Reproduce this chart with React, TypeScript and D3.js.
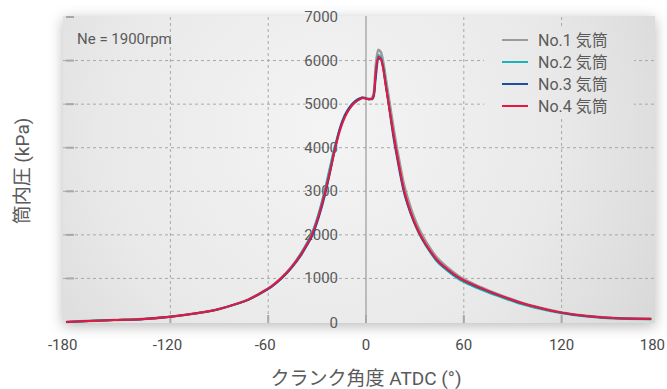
import React, { useEffect, useRef } from 'react';
import * as d3 from 'd3';

// crank angle (deg ATDC), shared by all four cylinders
const angles = [
  -184, -170, -155, -138, -120, -104, -90, -80, -72, -64, -58, -52, -46, -40,
  -36, -33, -29, -25, -22, -19, -16, -13, -10, -7, -4, -2, 0, 2, 3.5, 4.8, 6,
  7.5, 9, 10.5, 12, 13.5, 15, 17, 19, 21, 23, 26, 29, 32, 35, 39, 43, 50, 57,
  65, 75, 85, 95, 107, 120, 135, 155, 175,
];

// cylinder pressure (kPa)
const no1 = [
  0, 25, 45, 65, 120, 200, 300, 410, 520, 680, 820, 1010, 1250, 1560,
  1810, 2030, 2460, 3010, 3490, 3990, 4410, 4710, 4910, 5040, 5120, 5150, 5140, 5120, 5140, 5260, 5880,
  6250, 6200, 5980, 5620, 5260, 4900, 4420, 3980, 3580, 3200, 2790, 2450, 2180, 1960, 1710, 1500, 1250, 1050,
  890, 725, 580, 450, 325, 218, 140, 85, 72,
];
const no2 = [
  0, 25, 45, 65, 118, 198, 298, 405, 515, 675, 815, 1005, 1250, 1570,
  1830, 2060, 2500, 3080, 3580, 4060, 4440, 4720, 4910, 5030, 5110, 5140, 5130, 5110, 5120, 5220, 5760,
  6130, 6080, 5850, 5470, 5110, 4750, 4270, 3840, 3430, 3060, 2650, 2330, 2070, 1860, 1620, 1410, 1170, 980,
  830, 675, 540, 415, 300, 200, 125, 72, 62,
];
const no3 = [
  0, 25, 45, 65, 120, 200, 300, 410, 515, 670, 805, 990, 1225, 1520,
  1770, 1980, 2400, 2940, 3440, 3980, 4450, 4750, 4940, 5060, 5130, 5150, 5130, 5110, 5110, 5180, 5600,
  6030, 6050, 5850, 5480, 5100, 4700, 4200, 3780, 3380, 3020, 2640, 2330, 2080, 1870, 1640, 1440, 1200, 1010,
  860, 705, 565, 438, 318, 213, 138, 84, 71,
];
const no4 = [
  0, 25, 45, 65, 120, 200, 300, 410, 520, 680, 820, 1010, 1250, 1550,
  1800, 2020, 2450, 3000, 3480, 3980, 4400, 4700, 4900, 5030, 5110, 5140, 5130, 5110, 5120, 5220, 5750,
  6090, 6040, 5820, 5450, 5100, 4750, 4280, 3850, 3450, 3080, 2680, 2360, 2100, 1890, 1650, 1450, 1210, 1020,
  870, 710, 570, 440, 320, 215, 140, 85, 72,
];

const seriesNames = ['No.1 気筒', 'No.2 気筒', 'No.3 気筒', 'No.4 気筒'];
const seriesColors = ['#9a9a9a', '#1bb3b8', '#1d4f9e', '#e8173f'];
const seriesValues = [no1, no2, no3, no4];

const xTicks = [-180, -120, -60, 0, 60, 120, 180];
const yTicks = [0, 1000, 2000, 3000, 4000, 5000, 6000, 7000];

const FONT = "Roboto, 'Noto Sans CJK JP', sans-serif";
const TEXT = '#5a5a5a';

export default function App() {
  const svgRef = useRef<SVGSVGElement>(null);
  const width = 667;
  const height = 389;

  useEffect(() => {
    if (!svgRef.current) return;
    const svg = d3.select(svgRef.current);
    svg.selectAll('*').remove();

    const panel = { left: 63, top: 16, right: 655, bottom: 323 };

    const x = d3.scaleLinear().domain([-180, 180]).range([72.6, 659.4]);
    const y = d3.scaleLinear().domain([0, 7000]).range([322, 17]);

    const defs = svg.append('defs');
    const grad = defs
      .append('radialGradient')
      .attr('id', 'panelGrad')
      .attr('gradientUnits', 'userSpaceOnUse')
      .attr('cx', 330)
      .attr('cy', 130)
      .attr('r', 380);
    grad.append('stop').attr('offset', '0%').attr('stop-color', '#f4f4f4');
    grad.append('stop').attr('offset', '60%').attr('stop-color', '#e9e9e9');
    grad.append('stop').attr('offset', '100%').attr('stop-color', '#d8d8d8');

    const filter = defs
      .append('filter')
      .attr('id', 'shadow')
      .attr('x', '-10%')
      .attr('y', '-15%')
      .attr('width', '120%')
      .attr('height', '135%');
    filter
      .append('feDropShadow')
      .attr('dx', 0)
      .attr('dy', 3)
      .attr('stdDeviation', 7)
      .attr('flood-color', '#000')
      .attr('flood-opacity', 0.28);

    // Panel
    svg
      .append('rect')
      .attr('x', panel.left)
      .attr('y', panel.top)
      .attr('width', panel.right - panel.left)
      .attr('height', panel.bottom - panel.top)
      .attr('fill', 'url(#panelGrad)')
      .attr('filter', 'url(#shadow)');

    const g = svg.append('g');

    // Horizontal gridlines
    yTicks.filter(t => t > 0 && t < 7000).forEach(t => {
      g.append('line')
        .attr('x1', panel.left)
        .attr('x2', panel.right)
        .attr('y1', y(t))
        .attr('y2', y(t))
        .attr('stroke', '#a8a8a8')
        .attr('stroke-width', 1)
        .attr('stroke-dasharray', '3,3');
    });
    yTicks.filter(t => t > 0).forEach(t => {
      g.append('line')
        .attr('x1', 66)
        .attr('x2', 74)
        .attr('y1', y(t))
        .attr('y2', y(t))
        .attr('stroke', '#a8a8a8')
        .attr('stroke-width', 2);
    });

    // Vertical gridlines
    xTicks.filter(t => t !== 0 && Math.abs(t) < 180).forEach(t => {
      g.append('line')
        .attr('x1', x(t))
        .attr('x2', x(t))
        .attr('y1', panel.top + 1)
        .attr('y2', panel.bottom)
        .attr('stroke', '#a8a8a8')
        .attr('stroke-width', 1)
        .attr('stroke-dasharray', '3,3');
      g.append('line')
        .attr('x1', x(t))
        .attr('x2', x(t))
        .attr('y1', panel.bottom - 8)
        .attr('y2', panel.bottom)
        .attr('stroke', '#a8a8a8')
        .attr('stroke-width', 2);
    });

    // TDC line
    g.append('line')
      .attr('x1', x(0))
      .attr('x2', x(0))
      .attr('y1', panel.top)
      .attr('y2', panel.bottom)
      .attr('stroke', '#9a9a9a')
      .attr('stroke-width', 1.2);
    g.append('line')
      .attr('x1', x(0))
      .attr('x2', x(0))
      .attr('y1', panel.bottom - 8)
      .attr('y2', panel.bottom)
      .attr('stroke', '#a8a8a8')
      .attr('stroke-width', 2);

    // Y tick labels
    yTicks.forEach(t => {
      g.append('text')
        .attr('x', 338)
        .attr('y', t === 0 ? 323 : y(t))
        .attr('text-anchor', 'end')
        .attr('dominant-baseline', 'central')
        .attr('fill', TEXT)
        .attr('font-size', '15px')
        .attr('font-family', FONT)
        .text(t);
    });

    // Curves
    const line = d3
      .line<number>()
      .x((_, i) => x(angles[i]))
      .y(d => y(d))
      .curve(d3.curveMonotoneX);

    seriesValues.forEach((vals, k) => {
      g.append('path')
        .datum(vals)
        .attr('d', line)
        .attr('fill', 'none')
        .attr('stroke', seriesColors[k])
        .attr('stroke-width', k === 0 ? 2.6 : 2)
        .attr('stroke-linejoin', 'round');
    });

    // X tick labels
    xTicks.forEach(t => {
      svg
        .append('text')
        .attr('x', x(t) - (t < 0 ? 3 : 0) - (t === -180 ? 7 : 0) - (t === 180 ? 7 : 0))
        .attr('y', 345)
        .attr('text-anchor', 'middle')
        .attr('dominant-baseline', 'central')
        .attr('fill', '#4a4a4a')
        .attr('font-size', '15px')
        .attr('font-family', FONT)
        .text(t);
    });

    // Axis titles
    svg
      .append('text')
      .attr('x', 366)
      .attr('y', 378)
      .attr('text-anchor', 'middle')
      .attr('dominant-baseline', 'central')
      .attr('fill', TEXT)
      .attr('font-size', '19px')
      .attr('font-family', FONT)
      .text('クランク角度 ATDC (°)');

    svg
      .append('text')
      .attr('x', 22)
      .attr('y', 171)
      .attr('text-anchor', 'middle')
      .attr('dominant-baseline', 'central')
      .attr('transform', 'rotate(-90, 22, 171)')
      .attr('fill', TEXT)
      .attr('font-size', '19px')
      .attr('font-family', FONT)
      .text('筒内圧 (kPa)');

    // Engine speed note
    svg
      .append('text')
      .attr('x', 77)
      .attr('y', 39)
      .attr('dominant-baseline', 'central')
      .attr('fill', TEXT)
      .attr('font-size', '15px')
      .attr('font-family', FONT)
      .text('Ne = 1900rpm');

    // Legend
    const legend = svg.append('g');
    legend
      .append('rect')
      .attr('x', 484)
      .attr('y', 28)
      .attr('width', 150)
      .attr('height', 90)
      .attr('fill', 'url(#panelGrad)');
    seriesNames.forEach((name, k) => {
      const ly = 40 + k * 22;
      legend
        .append('line')
        .attr('x1', 502)
        .attr('x2', 528)
        .attr('y1', ly)
        .attr('y2', ly)
        .attr('stroke', seriesColors[k])
        .attr('stroke-width', 2);
      legend
        .append('text')
        .attr('x', 538)
        .attr('y', ly)
        .attr('dominant-baseline', 'central')
        .attr('fill', TEXT)
        .attr('font-size', '16px')
        .attr('font-family', FONT)
        .text(name);
    });
  }, []);

  return (
    <svg
      ref={svgRef}
      width={width}
      height={height}
      style={{ position: 'absolute', left: 0, top: 0, background: '#fff' }}
    />
  );
}
